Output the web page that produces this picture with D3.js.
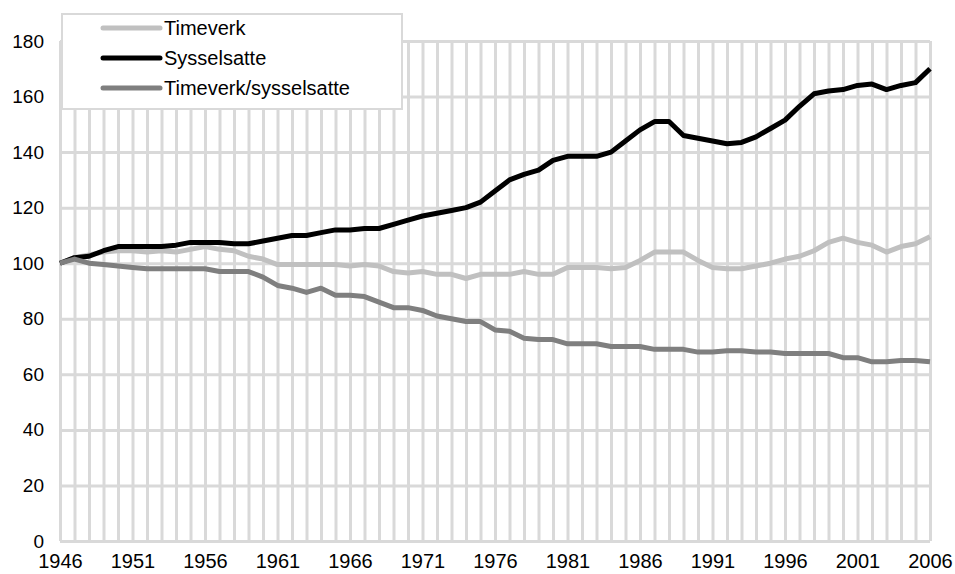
<!DOCTYPE html>
<html>
<head>
<meta charset="utf-8">
<script src="https://cdn.jsdelivr.net/npm/d3@7"></script>
<style>
  body { margin: 0; background: #fff; }
  svg text { font-family: "Liberation Sans", Arial, sans-serif; fill: #000; }
</style>
</head>
<body>
<svg id="chart" width="955" height="574"></svg>
<script>
// index 1946 = 100
const years = d3.range(1946, 2007);

const timeverk = [
  100, 102, 103, 104, 104.5, 104.5, 104, 104.5, 104, 105,
  106, 105, 104.5, 102.5, 101.5, 99.5, 99.5, 99.5, 99.5, 99.5,
  99, 99.5, 99, 97, 96.5, 97, 96, 96, 94.5, 96,
  96, 96, 97, 96, 96, 98.5, 98.5, 98.5, 98, 98.5,
  101, 104, 104, 104, 101, 98.5, 98, 98, 99, 100,
  101.5, 102.5, 104.5, 107.5, 109, 107.5, 106.5, 104, 106, 107,
  109.5
];

const sysselsatte = [
  100, 102, 102.5, 104.5, 106, 106, 106, 106, 106.5, 107.5,
  107.5, 107.5, 107, 107, 108, 109, 110, 110, 111, 112,
  112, 112.5, 112.5, 114, 115.5, 117, 118, 119, 120, 122,
  126, 130, 132, 133.5, 137, 138.5, 138.5, 138.5, 140, 144,
  148, 151, 151, 146, 145, 144, 143, 143.5, 145.5, 148.5,
  151.5, 156.5, 161, 162, 162.5, 164, 164.5, 162.5, 164, 165,
  170
];

const perSysselsatt = [
  100, 101.5, 100, 99.5, 99, 98.5, 98, 98, 98, 98,
  98, 97, 97, 97, 95, 92, 91, 89.5, 91, 88.5,
  88.5, 88, 86, 84, 84, 83, 81, 80, 79, 79,
  76, 75.5, 73, 72.5, 72.5, 71, 71, 71, 70, 70,
  70, 69, 69, 69, 68, 68, 68.5, 68.5, 68, 68,
  67.5, 67.5, 67.5, 67.5, 66, 66, 64.5, 64.5, 65, 65,
  64.5
];

const seriesNames = ["Timeverk", "Sysselsatte", "Timeverk/sysselsatte"];
const yTicks = [0, 20, 40, 60, 80, 100, 120, 140, 160, 180];
const xLabels = [1946, 1951, 1956, 1961, 1966, 1971, 1976, 1981, 1986, 1991, 1996, 2001, 2006];

const series = [
  { name: seriesNames[0], values: timeverk, color: "#c0c0c0" },
  { name: seriesNames[1], values: sysselsatte, color: "#000000" },
  { name: seriesNames[2], values: perSysselsatt, color: "#7f7f7f" }
];

const margin = { top: 41, right: 25, bottom: 33, left: 60 };
const width = 955 - margin.left - margin.right;
const height = 574 - margin.top - margin.bottom;

const svg = d3.select("#chart");
const g = svg.append("g").attr("transform", `translate(${margin.left},${margin.top})`);

const x = d3.scaleLinear().domain([1946, 2006]).range([0, width]);
const y = d3.scaleLinear().domain([0, 180]).range([height, 0]);

const gridColor = "#d9d9d9";

// vertical grid, one line per year
g.append("g")
  .attr("transform", `translate(0,${height})`)
  .call(d3.axisBottom(x).tickValues(years).tickSize(height).tickFormat(""))
  .call(a => a.select(".domain").remove())
  .call(a => a.selectAll(".tick line")
    .attr("y1", 0).attr("y2", -height)
    .attr("stroke", gridColor).attr("stroke-width", 3));

// horizontal grid
g.append("g")
  .call(d3.axisLeft(y).tickValues(yTicks).tickSize(-width).tickFormat(""))
  .call(a => a.select(".domain").remove())
  .call(a => a.selectAll(".tick line")
    .attr("stroke", gridColor).attr("stroke-width", 3));

// y labels
g.append("g")
  .call(d3.axisLeft(y).tickValues(yTicks).tickSize(0).tickPadding(16))
  .call(a => a.select(".domain").remove())
  .call(a => a.selectAll(".tick text")
    .attr("font-size", 19).attr("font-family", "Liberation Sans, Arial, sans-serif"));

// x labels
g.append("g")
  .attr("transform", `translate(0,${height})`)
  .call(d3.axisBottom(x).tickValues(xLabels).tickSize(0).tickPadding(13).tickFormat(d3.format("d")))
  .call(a => a.select(".domain").remove())
  .call(a => a.selectAll(".tick text")
    .attr("font-size", 20).attr("font-family", "Liberation Sans, Arial, sans-serif"));

const line = d3.line()
  .x((d, i) => x(years[i]))
  .y(d => y(d));

g.append("g")
  .selectAll("path")
  .data(series)
  .join("path")
  .attr("fill", "none")
  .attr("stroke", d => d.color)
  .attr("stroke-width", 5)
  .attr("stroke-linejoin", "round")
  .attr("d", d => line(d.values));

// legend
const legend = svg.append("g");
legend.append("rect")
  .attr("x", 62).attr("y", 14)
  .attr("width", 340).attr("height", 95)
  .attr("fill", "#fff")
  .attr("stroke", gridColor).attr("stroke-width", 2);

const rows = legend.selectAll("g.row")
  .data(series)
  .join("g")
  .attr("class", "row")
  .attr("transform", (d, i) => `translate(0,${28 + i * 30})`);

rows.append("line")
  .attr("x1", 103).attr("x2", 160)
  .attr("stroke", d => d.color)
  .attr("stroke-width", 5)
  .attr("stroke-linecap", "round");

rows.append("text")
  .attr("x", 164)
  .attr("dy", "0.35em")
  .attr("font-size", 20)
  .text(d => d.name);
</script>
</body>
</html>
